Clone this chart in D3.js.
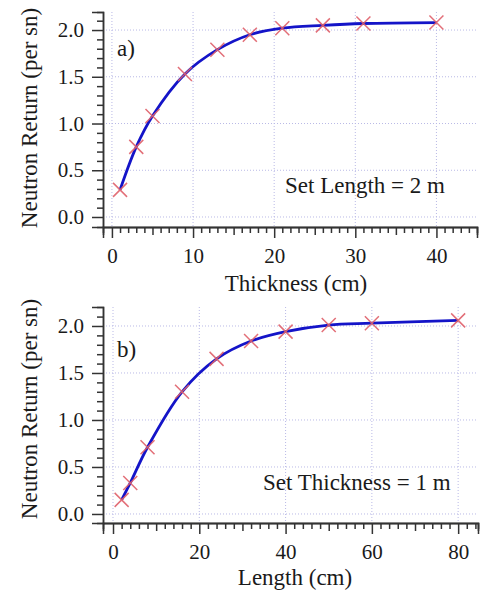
<!DOCTYPE html>
<html>
<head>
<meta charset="utf-8">
<script src="https://cdn.jsdelivr.net/npm/d3@7"></script>
<style>
  html, body { margin: 0; padding: 0; background: #fff; }
  svg text { font-family: "Liberation Serif", "Times New Roman", serif; fill: #1a1a1a; }
</style>
</head>
<body>
<svg id="chart" width="480" height="596"></svg>
<script>
// Panel a : thickness scan (length fixed at 2 m)
const thickness = [1, 3, 5, 9, 13, 17, 21, 26, 31, 40];
const returnA = [0.29, 0.75, 1.08, 1.53, 1.79, 1.95, 2.02, 2.05, 2.07, 2.08];

// Panel b : length scan (thickness fixed at 1 m)
const lengthCm = [2, 4, 8, 16, 24, 32, 40, 50, 60, 80];
const returnB = [0.15, 0.33, 0.71, 1.3, 1.65, 1.84, 1.94, 2.01, 2.03, 2.06];

// Tick labels
const yTicks = [0.0, 0.5, 1.0, 1.5, 2.0];
const xTicksA = [0, 10, 20, 30, 40];
const xTicksB = [0, 20, 40, 60, 80];

const svg = d3.select('#chart');

const GRID = '#b9b9e6';
const AXIS = '#333';
const LINE = '#1414c8';
const MARK = '#e0606a';
const FONT = 23;      // titres
const TICK_FONT = 21; // graduations

function drawPanel(opts) {
    const x = d3.scaleLinear().domain(opts.xDomain).range(opts.xRange);
    const y = d3.scaleLinear().domain(opts.yDomain).range(opts.yRange);
    const g = svg.append('g');

    // grille pointillée
    g.selectAll('.vgrid')
        .data(opts.xTicks)
        .enter()
        .append('line')
        .attr('x1', d => x(d)).attr('x2', d => x(d))
        .attr('y1', y.range()[1]).attr('y2', y.range()[0])
        .attr('stroke', GRID).attr('stroke-width', 1)
        .attr('stroke-dasharray', '1,2');
    g.selectAll('.hgrid')
        .data(yTicks)
        .enter()
        .append('line')
        .attr('x1', x.range()[0]).attr('x2', x.range()[1])
        .attr('y1', d => y(d)).attr('y2', d => y(d))
        .attr('stroke', GRID).attr('stroke-width', 1)
        .attr('stroke-dasharray', '1,2');

    // axe X : mineures, moyennes, majeures
    const xAxisY = y.range()[0];
    const minorX = d3.range(0, x.domain()[1], opts.xMinor).filter(v => v % opts.xMid !== 0);
    const midX = d3.range(opts.xMid, x.domain()[1], opts.xMid * 2);
    g.append('g').attr('transform', `translate(0,${xAxisY})`)
        .call(d3.axisBottom(x).tickValues(minorX).tickSize(6).tickFormat(''));
    g.append('g').attr('transform', `translate(0,${xAxisY})`)
        .call(d3.axisBottom(x).tickValues(midX).tickSize(8).tickFormat(''));
    g.append('g').attr('transform', `translate(0,${xAxisY})`)
        .call(d3.axisBottom(x).tickValues(opts.xTicks).tickSize(11).tickPadding(10).tickFormat(d3.format('d')));

    // axe Y
    const yAxisX = x.range()[0];
    const minorY = d3.range(0.1, 2.15, 0.1).filter(v => Math.abs(v * 2 - Math.round(v * 2)) > 0.01);
    g.append('g').attr('transform', `translate(${yAxisX},0)`)
        .call(d3.axisLeft(y).tickValues(minorY).tickSize(6).tickFormat(''));
    g.append('g').attr('transform', `translate(${yAxisX},0)`)
        .call(d3.axisLeft(y).tickValues(yTicks).tickSize(11).tickPadding(8).tickFormat(d3.format('.1f')));

    g.selectAll('.domain').attr('stroke', AXIS).attr('stroke-width', 1.5);
    g.selectAll('.tick line').attr('stroke', AXIS).attr('stroke-width', 1.5);
    g.selectAll('.tick text')
        .attr('font-size', TICK_FONT)
        .attr('font-family', '"Liberation Serif", serif')
        .attr('fill', '#1a1a1a');

    // courbe ajustée
    const pts = opts.xs.map((v, i) => [v, opts.ys[i]]);
    const line = d3.line()
        .x(d => x(d[0]))
        .y(d => y(d[1]))
        .curve(d3.curveCatmullRom.alpha(0.5));
    g.append('path')
        .datum(pts)
        .attr('fill', 'none')
        .attr('stroke', LINE)
        .attr('stroke-width', 2.8)
        .attr('d', line);

    // marqueurs en croix
    const s = 7;
    g.selectAll('.mark')
        .data(pts)
        .enter()
        .append('path')
        .attr('d', d => `M${x(d[0]) - s},${y(d[1]) - s}L${x(d[0]) + s},${y(d[1]) + s}M${x(d[0]) - s},${y(d[1]) + s}L${x(d[0]) + s},${y(d[1]) - s}`)
        .attr('stroke', MARK)
        .attr('stroke-width', 1.5)
        .attr('opacity', 0.9);

    // textes
    g.append('text')
        .attr('x', 117).attr('y', opts.tagY)
        .attr('font-size', FONT)
        .text(opts.tag);
    g.append('text')
        .attr('x', opts.noteX).attr('y', opts.noteY)
        .attr('font-size', FONT)
        .text(opts.note);
    g.append('text')
        .attr('x', opts.titleX).attr('y', opts.titleY)
        .attr('text-anchor', 'middle')
        .attr('font-size', FONT)
        .text(opts.xTitle);
    g.append('text')
        .attr('transform', `translate(37,${opts.yTitleY}) rotate(-90)`)
        .attr('text-anchor', 'middle')
        .attr('font-size', FONT)
        .text('Neutron Return (per sn)');
}

drawPanel({
    xs: thickness, ys: returnA,
    xDomain: [-1.1, 45], xRange: [103, 477],
    yDomain: [-0.107, 2.193], yRange: [227, 12],
    xTicks: xTicksA, xMinor: 1, xMid: 5,
    tag: 'a)', tagY: 56,
    note: 'Set Length = 2 m', noteX: 285, noteY: 193,
    xTitle: 'Thickness (cm)', titleX: 296, titleY: 291,
    yTitleY: 118
});

drawPanel({
    xs: lengthCm, ys: returnB,
    xDomain: [-2.32, 84.6], xRange: [103, 478],
    yDomain: [-0.096, 2.202], yRange: [523, 307],
    xTicks: xTicksB, xMinor: 2, xMid: 10,
    tag: 'b)', tagY: 357,
    note: 'Set Thickness = 1 m', noteX: 263, noteY: 490,
    xTitle: 'Length (cm)', titleX: 295, titleY: 585,
    yTitleY: 409
});
</script>
</body>
</html>
